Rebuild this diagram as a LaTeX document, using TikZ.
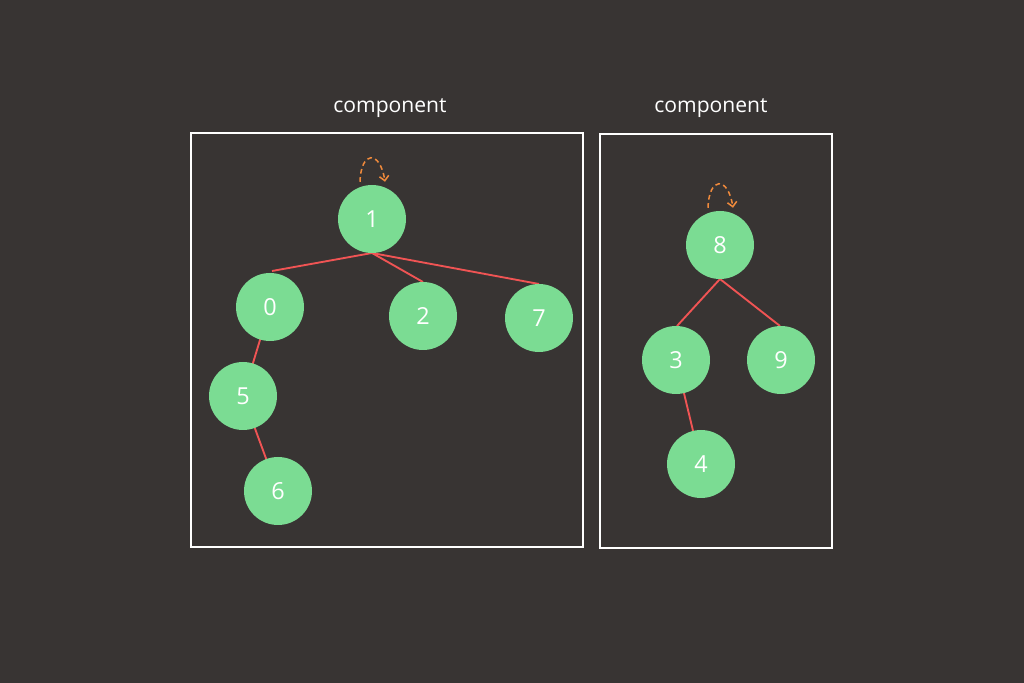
\documentclass[tikz,border=0pt]{standalone}
\usepackage{fontspec}
\setmainfont{Open Sans}
\usetikzlibrary{arrows.meta}
\definecolor{bg}{HTML}{383433}
\definecolor{nodegreen}{HTML}{7BDC93}
\definecolor{edgered}{HTML}{F05454}
\definecolor{loopor}{HTML}{F08A3C}
\tikzset{
  vert/.style={circle,fill=nodegreen,minimum size=68*0.03cm,inner sep=0pt,text=white,font=\fontsize{20}{20}\selectfont},
  edge/.style={draw=edgered,line width=1.6pt},
  comp/.style={draw=white,line width=1.6pt},
  lbl/.style={text=white,font=\fontsize{18}{18}\selectfont},
  selfloop/.style={draw=loopor,line width=1.3pt,dashed,dash pattern=on 4pt off 3pt,-{Straight Barb[length=4pt]}}
}
\begin{document}
\begin{tikzpicture}[x=0.03cm,y=-0.03cm]
\fill[bg] (0,0) rectangle (1024,683);
\useasboundingbox (0,0) rectangle (1024,683);
\draw[comp] (191,133) rectangle (583,547);
\draw[comp] (600,134) rectangle (832,548);
\node[lbl] (l1) at (390,108) {component};
\node[lbl] (l2) at (711,108) {component};
\coordinate (s1) at (372,253);
\coordinate (t0) at (272,271);
\coordinate (t2) at (423,282);
\coordinate (t7) at (539,284);
\coordinate (s8) at (720,279);
\coordinate (t3) at (677,326);
\coordinate (t9) at (780,326);
\draw[edge] (s1) -- (t0);
\draw[edge] (s1) -- (t2);
\draw[edge] (s1) -- (t7);
\draw[edge] (s8) -- (t3);
\draw[edge] (s8) -- (t9);
\draw[edge] (270,307) -- (243,396);
\draw[edge] (243,396) -- (278,491);
\draw[edge] (676,360) -- (701,464);
\node[vert] (n1) at (372,219) {1};
\node[vert] (n0) at (270,307) {0};
\node[vert] (n2) at (423,316) {2};
\node[vert] (n7) at (539,318) {7};
\node[vert] (n5) at (243,396) {5};
\node[vert] (n6) at (278,491) {6};
\node[vert] (n8) at (720,245) {8};
\node[vert] (n3) at (676,360) {3};
\node[vert] (n9) at (781,360) {9};
\node[vert] (n4) at (701,464) {4};
\draw[selfloop] (n1.north) ++(-12,-3) .. controls (361,150) and (380,150) .. ([xshift=0.39cm,yshift=0.09cm]n1.north);
\draw[selfloop] (n8.north) ++(-12,-3) .. controls (709,176) and (728,176) .. ([xshift=0.39cm,yshift=0.09cm]n8.north);
\end{tikzpicture}
\end{document}
